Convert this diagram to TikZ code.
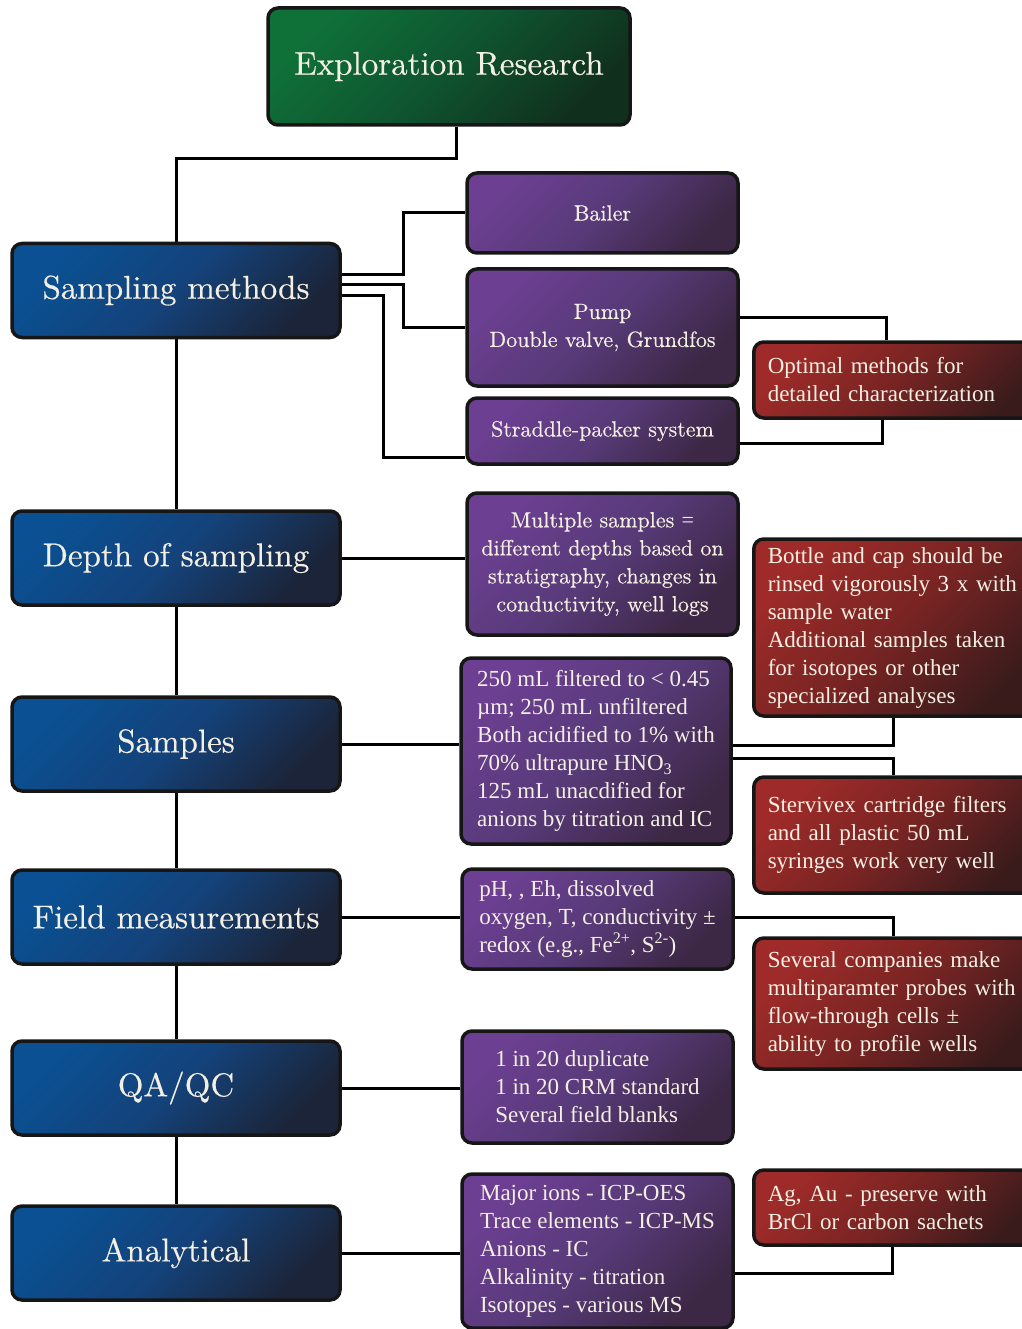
\documentclass[tikz,border=0pt]{standalone}
\usepackage{fontspec}
\newfontfamily\tms{Liberation Serif}
\newfontfamily\gdy{lmroman10-regular.otf}[FakeBold=0.4]
\usetikzlibrary{backgrounds}
\definecolor{boxline}{HTML}{161616}
\definecolor{txt}{HTML}{F4EFE3}
\definecolor{blueA}{HTML}{0A5092}
\definecolor{blueM}{HTML}{14427A}
\definecolor{blueB}{HTML}{1B2438}
\definecolor{greenA}{HTML}{0F7038}
\definecolor{greenM}{HTML}{0F5430}
\definecolor{greenB}{HTML}{10301D}
\definecolor{purA}{HTML}{6C3F92}
\definecolor{purM}{HTML}{573A78}
\definecolor{purB}{HTML}{3C2744}
\definecolor{redA}{HTML}{9E2B29}
\definecolor{redM}{HTML}{772423}
\definecolor{redB}{HTML}{3A1B1B}
\begin{document}
\begin{tikzpicture}[x=1pt,y=-1pt,
  box/.style={draw=boxline, line width=3.5pt, rounded corners=10pt, text=txt, inner sep=0pt},
  green box/.style={box, top color=greenA, bottom color=greenB, middle color=greenM, shading angle=45},
  mainbox/.style={box, top color=blueA, bottom color=blueB, middle color=blueM, shading angle=45,
    minimum width=328pt, minimum height=94pt, font=\gdy\fontsize{33}{38}\selectfont},
  subbox/.style={box, top color=purA, bottom color=purB, middle color=purM, shading angle=45, minimum width=271pt},
  gsub/.style={subbox, align=center, font=\gdy\fontsize{22}{28}\selectfont},
  tsub/.style={subbox, align=left, font=\tms\fontsize{23}{28}\selectfont},
  notebox/.style={box, top color=redA, bottom color=redB, middle color=redM, shading angle=45, anchor=west,
    text width=262pt, inner xsep=14pt, align=left, font=\tms\fontsize{23}{28}\selectfont},
  link/.style={draw=black, line width=3pt}
]
\useasboundingbox (0,0) rectangle (1021,1329);

% main column
\node[green box, minimum width=362pt, minimum height=117pt, font=\gdy\fontsize{33}{38}\selectfont] (er) at (449,66.5) {Exploration Research};
\node[mainbox] (sm) at (176,290.5) {Sampling methods};
\node[mainbox] (ds) at (176,558) {Depth of sampling};
\node[mainbox] (sa) at (176,744) {Samples};
\node[mainbox] (fm) at (176,917) {Field measurements};
\node[mainbox] (qa) at (176,1088) {QA/QC};
\node[mainbox] (an) at (176,1253) {Analytical};

% purple detail boxes
\node[gsub, minimum height=80pt] (bailer) at (602.5,213) {Bailer};
\node[gsub, minimum height=117pt] (pump) at (602.5,327.5) {Pump\\Double valve, Grundfos};
\node[gsub, minimum height=66pt] (strad) at (602.5,431) {Straddle-packer system};
\node[gsub, minimum height=142pt] (multi) at (602.5,564) {Multiple samples {\tms=}\\different depths based on\\stratigraphy, changes in\\conductivity, well logs};
\node[tsub, minimum width=270pt, minimum height=186pt] (s250) at (596,751) {250 mL filtered to < 0.45\\µm; 250 mL unfiltered\\Both acidified to 1\% with\\70\% ultrapure HNO\textsubscript{3}\\125 mL unacdified for\\anions by titration and IC};
\node[tsub, minimum height=100pt] (ph) at (597.5,919) {pH, , Eh, dissolved\\oxygen, T, conductivity ±\\redox (e.g., Fe\textsuperscript{2+}, S\textsuperscript{2-})};
\node[tsub, minimum height=112pt] (q20) at (597.5,1087) {1 in 20 duplicate\\1 in 20 CRM standard\\Several field blanks};
\node[tsub, minimum height=154pt] (major) at (597.5,1251) {Major ions - ICP-OES\\Trace elements - ICP-MS\\Anions - IC\\Alkalinity - titration\\Isotopes - various MS};

% red note boxes
\node[notebox, minimum height=76pt] (opt) at (752,380) {Optimal methods for\\detailed characterization};
\node[notebox, minimum height=177pt] (bottle) at (752,627.5) {Bottle and cap should be\\rinsed vigorously 3 x with\\sample water\\Additional samples taken\\for isotopes or other\\specialized analyses};
\node[notebox, minimum height=116pt] (sterv) at (752,835) {Stervivex cartridge filters\\and all plastic 50 mL\\syringes work very well};
\node[notebox, minimum height=131pt] (sev) at (752,1003.5) {Several companies make\\multiparamter probes with\\flow-through cells ±\\ability to profile wells};
\node[notebox, minimum height=75pt] (ag) at (752,1207.5) {Ag, Au - preserve with\\BrCl or carbon sachets};

\begin{pgfonlayer}{background}
  \path[link] ([xshift=7pt]er.south) -- ++(0,32) -| (sm.north);
  \path[link] (sm.south) -- (ds.north);
  \path[link] (ds.south) -- (sa.north);
  \path[link] (sa.south) -- (fm.north);
  \path[link] (fm.south) -- (qa.north);
  \path[link] (qa.south) -- (an.north);
  % sampling methods branches
  \path[link] (sm.east |- 0,275) -| (403,213) -- (bailer.west);
  \path[link] (sm.east |- 0,285) -| (403,327.5) -- (pump.west);
  \path[link] (sm.east |- 0,296) -| (383,457) -- (strad.west |- 0,457);
  \path[link] (pump.east |- 0,317) -| (opt.north -| 886,0);
  \path[link] (strad.east |- 0,443) -| (opt.south -| 882,0);
  % other rows
  \path[link] (ds.east) -- (ds.east -| multi.west);
  \path[link] (sa.east) -- (sa.east -| s250.west);
  \path[link] (s250.east |- 0,745) -| (bottle.south -| 893,0);
  \path[link] (s250.east |- 0,758) -| (sterv.north -| 893,0);
  \path[link] (fm.east) -- (fm.east -| ph.west);
  \path[link] (ph.east |- 0,917) -| (sev.north -| 893,0);
  \path[link] (qa.east) -- (qa.east -| q20.west);
  \path[link] (an.east) -- (an.east -| major.west);
  \path[link] (major.east |- 0,1273) -| (ag.south -| 892,0);
\end{pgfonlayer}
\end{tikzpicture}
\end{document}
